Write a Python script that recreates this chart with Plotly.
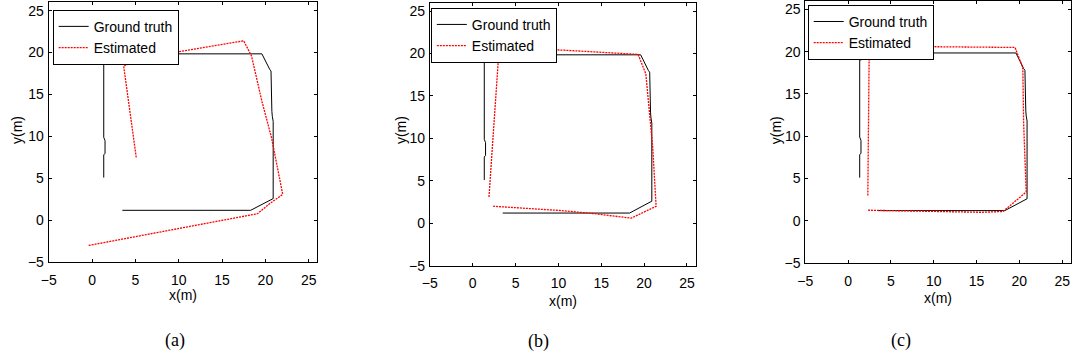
import plotly.graph_objects as go

# Ground truth trajectory (same in all three panels)
gt_x = [3.5, 18.3, 20.9, 20.9, 20.8, 20.75, 20.65, 20.5, 19.6, 4.4, 1.35, 1.35, 1.5, 1.5, 1.35, 1.35]
gt_y = [1.2, 1.2, 2.6, 11.8, 12.4, 13.0, 17.8, 18.0, 19.85, 19.85, 19.0, 9.9, 9.5, 8.0, 7.8, 5.1]

# Estimated trajectories
est_a_x = [5.1, 3.65, 5.9, 17.5, 18.4, 19.6, 20.7, 22.0, 20.5, 19.1, -0.45]
est_a_y = [7.5, 18.4, 19.4, 21.4, 19.6, 14.2, 9.9, 3.1, 2.0, 0.8, -3.0]

est_b_x = [1.9, 2.3, 2.5, 3.0, 3.2, 5.3, 10.6, 16.7, 19.3, 20.2, 20.7, 21.0, 21.4, 18.5, 14.0, 10.2, 2.4]
est_b_y = [3.1, 8.6, 11.5, 19.4, 19.8, 20.6, 20.4, 20.0, 19.9, 17.6, 11.7, 9.0, 2.0, 0.6, 1.15, 1.5, 2.0]

est_c_x = [2.3, 2.45, 3.4, 5.0, 9.1, 19.5, 20.4, 20.5, 20.8, 18.1, 15.6, 9.3, 2.2]
est_c_y = [3.0, 19.0, 19.6, 20.5, 20.6, 20.5, 18.1, 11.5, 3.4, 1.1, 1.0, 1.1, 1.25]

tick_vals = [-5, 0, 5, 10, 15, 20, 25]
axis_range = [-5, 26]
panel_labels = ["(a)", "(b)", "(c)"]

W, H = 1075, 360
# pixel boxes of the three axes: (left, right, top, bottom)
boxes = [(41, 311.7, 2.3, 268.3), (425, 692.7, 2.7, 271.7), (803.3, 1070.7, 1.0, 269.0)]
legend_pos = [(45, 10), (426, 8), (805.7, 5)]
xlabel_pos = [(176, 302), (559, 308), (937, 305)]
ylabel_pos = [(9, 133), (396, 133), (774, 133)]
label_pos = [(168, 348), (534, 349), (900, 348)]

FONT = "Liberation Sans, Arial, sans-serif"
fig = go.Figure()

est_sets = [(est_a_x, est_a_y), (est_b_x, est_b_y), (est_c_x, est_c_y)]
for i, (ex, ey) in enumerate(est_sets):
    sfx = "" if i == 0 else str(i + 1)
    leg = "legend" if i == 0 else f"legend{i + 1}"
    fig.add_trace(go.Scatter(x=gt_x, y=gt_y, mode="lines", name="Ground truth",
                             line=dict(color="black", width=1),
                             xaxis="x" + sfx, yaxis="y" + sfx, legend=leg))
    fig.add_trace(go.Scatter(x=ex, y=ey, mode="lines", name="Estimated",
                             line=dict(color="red", width=1.3, dash="2px,1px"),
                             xaxis="x" + sfx, yaxis="y" + sfx, legend=leg))

layout = dict(width=W, height=H, margin=dict(l=0, r=0, t=0, b=0),
              paper_bgcolor="white", plot_bgcolor="white",
              font=dict(family=FONT, size=14, color="black"))

annotations = []
for i, (l, r, t, b) in enumerate(boxes):
    sfx = "" if i == 0 else str(i + 1)
    common = dict(range=axis_range, tickvals=tick_vals, ticks="inside", ticklen=3,
                  tickcolor="black", showline=True, linecolor="black", linewidth=1,
                  mirror="ticks", showgrid=False, zeroline=False,
                  tickfont=dict(family=FONT, size=14, color="black"))
    layout["xaxis" + sfx] = dict(common, domain=[l / W, r / W], anchor="y" + sfx,
                                 ticklabelstandoff=5)
    layout["yaxis" + sfx] = dict(common, domain=[1 - b / H, 1 - t / H], anchor="x" + sfx,
                                 ticklabelstandoff=1)
    lx, ly = legend_pos[i]
    layout["legend" if i == 0 else f"legend{i + 1}"] = dict(
        x=lx / W, y=1 - ly / H, xanchor="left", yanchor="top",
        bgcolor="white", bordercolor="black", borderwidth=1,
        font=dict(family=FONT, size=14, color="black"), tracegroupgap=0,
        itemwidth=30)
    xx, xy = xlabel_pos[i]
    annotations.append(dict(text="x(m)", x=xx / W, y=1 - xy / H, xref="paper", yref="paper",
                            showarrow=False, xanchor="center", yanchor="middle",
                            font=dict(family=FONT, size=14, color="black")))
    yx, yy = ylabel_pos[i]
    annotations.append(dict(text="y(m)", x=yx / W, y=1 - yy / H, xref="paper", yref="paper",
                            showarrow=False, xanchor="center", yanchor="middle", textangle=-90,
                            font=dict(family=FONT, size=14, color="black")))
    px, py = label_pos[i]
    annotations.append(dict(text=panel_labels[i], x=px / W, y=1 - py / H, xref="paper", yref="paper",
                            showarrow=False, xanchor="center", yanchor="middle",
                            font=dict(family="Liberation Serif, Times New Roman, serif", size=18,
                                      color="black")))
layout["annotations"] = annotations
layout["showlegend"] = True
fig.update_layout(**layout)
fig.write_html("out.html")
